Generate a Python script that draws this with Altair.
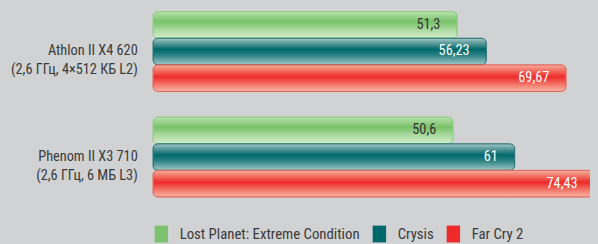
import altair as alt
import pandas as pd
import jinja2

processors = ["Athlon II X4 620|(2,6 ГГц, 4×512 КБ L2)", "Phenom II X3 710|(2,6 ГГц, 6 МБ L3)"]
series = ["Lost Planet: Extreme Condition", "Crysis", "Far Cry 2"]
lost_planet = [51.3, 50.6]
crysis = [56.23, 61]
far_cry = [69.67, 74.43]

rows = []
for s, vals in zip(series, [lost_planet, crysis, far_cry]):
    for p, v in zip(processors, vals):
        rows.append({"processor": p, "series": s, "value": v})
df = pd.DataFrame(rows)

FONT = "Roboto Condensed, Liberation Sans Narrow, Arial Narrow, Roboto, sans-serif"
TXT = "#3a3a3a"
BG = "#d1d2d4"

solid = ["#7dc36d", "#00686a", "#ee2a2a"]
strokes = ["#8ccd7e", "#2a7476", "#e5645a"]
stops = [
    [("#bfe3b5", 0), ("#a3d697", 0.12), ("#78c268", 0.38), ("#a6d79a", 0.65), ("#d6eecf", 1)],
    [("#a9cbcc", 0), ("#6aa3a4", 0.15), ("#00686a", 0.42), ("#2e8486", 0.65), ("#a4c7c8", 1)],
    [("#f7b0a0", 0), ("#f27b6b", 0.18), ("#ee2a2a", 0.45), ("#f2685c", 0.68), ("#fab9a9", 1)],
]

x_enc = alt.X("value:Q", scale=alt.Scale(domain=[0, 73.7], nice=False, zero=True), axis=None)
y_enc = alt.Y(
    "processor:N",
    sort=processors,
    scale=alt.Scale(domain=processors, paddingInner=0.243, paddingOuter=0),
    axis=alt.Axis(
        title=None, domain=False, ticks=False, grid=False,
        labelExpr="split(datum.label, '|')",
        labelAlign="right", labelPadding=16, labelFontSize=14.5, labelFont=FONT,
        labelColor=TXT, labelLineHeight=19, labelBaseline="middle", labelLimit=0,
    ),
)
yo_enc = alt.YOffset("series:N", sort=series, scale=alt.Scale(domain=series, paddingInner=0, paddingOuter=0))

base = alt.Chart(df)

solid_layer = base.mark_bar(cornerRadius=5).encode(
    x=x_enc, y=y_enc, yOffset=yo_enc,
    color=alt.Color(
        "series:N", sort=series,
        scale=alt.Scale(domain=series, range=solid),
        legend=alt.Legend(
            orient="none", legendX=-1, legendY=216, direction="horizontal",
            title=None, symbolType="M-0.8,-1H0.8V1H-0.8Z", symbolSize=289, symbolOpacity=1,
            labelFontSize=15, labelFont=FONT, labelColor=TXT, labelLimit=0,
            columnPadding=10, labelOffset=9,
        ),
    ),
)

layers = [solid_layer]
for s, st, sc in zip(series, stops, strokes):
    grad = alt.Gradient(
        gradient="linear",
        stops=[alt.GradientStop(color=c, offset=o) for c, o in st],
        x1=0, x2=0, y1=0, y2=1,
    )
    layers.append(
        base.transform_filter(alt.datum.series == s)
        .mark_bar(cornerRadius=5, fill=grad, stroke=sc, strokeWidth=1)
        .encode(x=x_enc, y=y_enc, yOffset=yo_enc)
    )

text_layer = base.transform_calculate(
    label="replace(toString(datum.value), '.', ',')"
).mark_text(align="right", baseline="middle", dx=-17, fontSize=14.5, font=FONT).encode(
    x=x_enc, y=y_enc, yOffset=yo_enc,
    text="label:N",
    color=alt.condition(alt.datum.series == series[0], alt.value("#333333"), alt.value("#ffffff")),
)
layers.append(text_layer)

chart = alt.layer(*layers).properties(
    width=443, height=188,
    autosize=alt.AutoSizeParams(type="none"),
    padding={"left": 147, "top": 2, "right": 0, "bottom": 46},
    background=BG,
).configure_view(stroke=None)

TEMPLATE = jinja2.Template("""<!DOCTYPE html>
<html>
<head>
  <meta charset="utf-8">
  <style>
    html, body { background: """ + BG + """; overflow: hidden; }
    body { margin: 8px 8px 0 8px; }
    #{{ output_div }}.vega-embed { width: 100%; display: flex; }
  </style>
  <script type="text/javascript" src="{{ base_url }}/vega@{{ vega_version }}"></script>
  <script type="text/javascript" src="{{ base_url }}/vega-lite@{{ vegalite_version }}"></script>
  <script type="text/javascript" src="{{ base_url }}/vega-embed@{{ vegaembed_version }}"></script>
</head>
<body>
  <div id="{{ output_div }}"></div>
  <script type="text/javascript">
    (function(vegaEmbed) {
      var spec = {{ spec }};
      var embedOpt = {{ embed_options }};
      function showError(el, error){
        el.innerHTML = ('<div style="color:red;"><p>JavaScript Error: ' + error.message + '</p></div>');
        throw error;
      }
      const el = document.getElementById('{{ output_div }}');
      vegaEmbed("#{{ output_div }}", spec, embedOpt).catch(error => showError(el, error));
    })(vegaEmbed);
  </script>
</body>
</html>
""")

chart.save("out.html", embed_options={"renderer": "svg", "actions": False}, template=TEMPLATE)
